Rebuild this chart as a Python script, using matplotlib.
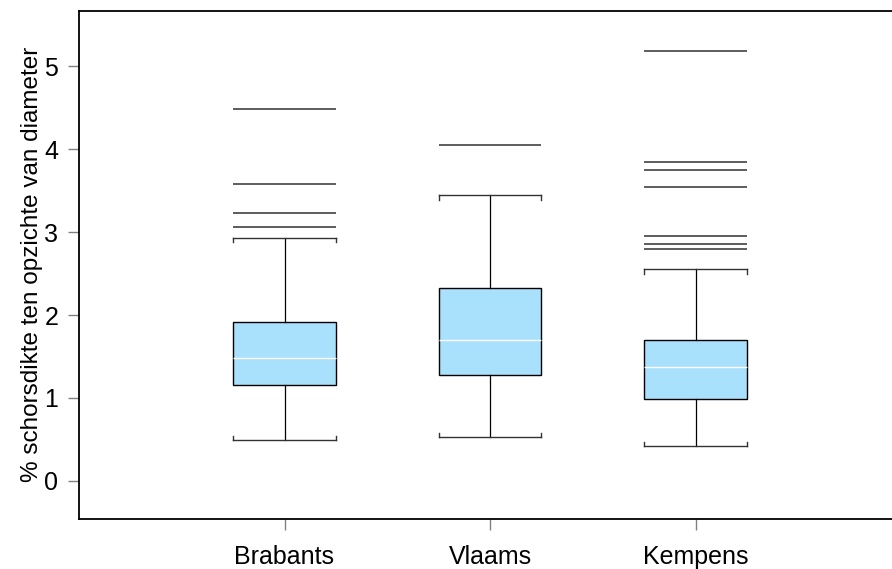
import numpy as np
import matplotlib
matplotlib.use("Agg")
import matplotlib.pyplot as plt

plt.rcParams['font.family'] = ['Liberation Sans', 'DejaVu Sans']

# bark thickness relative to diameter, summary per region
groups = ["Brabants", "Vlaams", "Kempens"]
whisker_lo = [0.49, 0.53, 0.42]
q1 = [1.16, 1.28, 0.99]
median = [1.48, 1.70, 1.37]
q3 = [1.91, 2.33, 1.70]
whisker_hi = [2.93, 3.44, 2.55]
outliers = [
    [3.06, 3.23, 3.58, 4.48],
    [4.05],
    [2.80, 2.86, 2.95, 3.54, 3.75, 3.84, 5.18],
]

box_fill = "#A9E1FD"
box_w = 0.5

fig = plt.figure(figsize=(8.92, 5.69), dpi=100)
ax = fig.add_axes([79 / 892, 1 - 518.5 / 569, 822 / 892, 507.5 / 569])

positions = np.arange(1, len(groups) + 1)
stats = []
for i, g in enumerate(groups):
    stats.append(dict(label=g, whislo=whisker_lo[i], q1=q1[i], med=median[i],
                      q3=q3[i], whishi=whisker_hi[i], fliers=[]))

ax.bxp(stats, positions=positions, widths=box_w, patch_artist=True,
       showfliers=False, capwidths=box_w,
       boxprops=dict(facecolor=box_fill, edgecolor="black", linewidth=1.0),
       medianprops=dict(color="white", linewidth=1.0),
       whiskerprops=dict(color="black", linewidth=0.9),
       capprops=dict(color="#333333", linewidth=1.0))

# small end ticks on the caps, pointing towards the box
tick_len = 0.05
for x, lo, hi in zip(positions, whisker_lo, whisker_hi):
    for dx in (-box_w / 2, box_w / 2):
        ax.plot([x + dx, x + dx], [hi, hi - tick_len], color="#333333", lw=1.0)
        ax.plot([x + dx, x + dx], [lo, lo + tick_len], color="#333333", lw=1.0)

# outlying values drawn as horizontal lines across the box width
for x, vals in zip(positions, outliers):
    ax.hlines(vals, x - box_w / 2, x + box_w / 2, color="#505050", lw=1.3)

ax.set_xlim(0, 4)
ax.set_ylim(-0.452, 5.663)
ax.set_yticks([0, 1, 2, 3, 4, 5])
ax.set_xticks(positions)
ax.set_xticklabels(groups)
ax.set_ylabel("% schorsdikte ten opzichte van diameter", fontsize=17.5, labelpad=1)

ax.tick_params(axis="both", labelsize=18, length=8, width=1.0, color="#808080")
ax.tick_params(axis="y", pad=7)
ax.tick_params(axis="x", pad=11)
ax.spines["right"].set_visible(False)
for side in ("left", "top", "bottom"):
    ax.spines[side].set_linewidth(1.3)

fig.savefig("out.png", dpi=100)
